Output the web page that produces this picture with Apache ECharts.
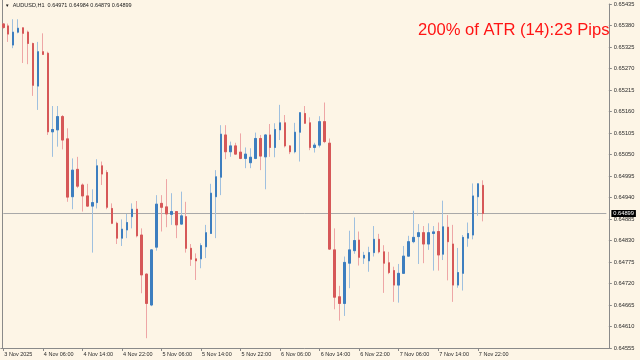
<!DOCTYPE html>
<html><head><meta charset="utf-8">
<script src="https://cdn.jsdelivr.net/npm/echarts@6/dist/echarts.min.js"></script>
<style>html,body{margin:0;padding:0;background:#fdf5e6}#c{width:640px;height:360px}</style>
</head><body><div id="c"></div><script>
const symbolTitle = 'AUDUSD,H1  0.64971 0.64984 0.64879 0.64899';
const atrText = '200% of ATR (14):23 Pips';

const opens = [0.65384,0.65379,0.65330,0.65363,0.65374,0.65363,0.65334,0.65225,0.65313,0.65309,
0.65108,0.65113,0.65147,0.65090,0.64942,0.65012,0.64972,0.64944,0.64918,0.64927,
0.65021,0.65004,0.64912,0.64874,0.64836,0.64857,0.64891,0.64910,0.64844,0.64744,
0.64665,0.64813,0.64925,0.64916,0.64897,0.64904,0.64872,0.64891,0.64810,0.64783,
0.64783,0.64814,0.64848,0.64942,0.64992,0.65100,0.65057,0.65072,0.65056,0.65040,
0.65029,0.65040,0.65091,0.65044,0.65100,0.65068,0.65113,0.65131,0.65072,0.65057,
0.65107,0.65155,0.65131,0.65068,0.65074,0.65134,0.65079,0.64806,0.64686,0.64669,
0.64772,0.64804,0.64831,0.64785,0.64778,0.64799,0.64833,0.64801,0.64773,0.64753,
0.64716,0.64746,0.64790,0.64827,0.64840,0.64850,0.64821,0.64848,0.64853,0.64795,
0.64864,0.64821,0.64716,0.64746,0.64836,0.64844,0.64942,0.64971];

const highs = [0.65385,0.65385,0.65396,0.65396,0.65375,0.65367,0.65336,0.65338,0.65360,0.65313,
0.65174,0.65174,0.65151,0.65117,0.65040,0.65044,0.64976,0.64975,0.64961,0.65038,
0.65032,0.65010,0.64925,0.64878,0.64884,0.64898,0.64925,0.64931,0.64861,0.64746,
0.64808,0.64946,0.64946,0.64987,0.64951,0.64905,0.64955,0.64929,0.64821,0.64797,
0.64823,0.64870,0.64975,0.65010,0.65125,0.65125,0.65083,0.65080,0.65104,0.65068,
0.65066,0.65106,0.65100,0.65102,0.65128,0.65130,0.65177,0.65151,0.65074,0.65131,
0.65158,0.65174,0.65145,0.65080,0.65148,0.65183,0.65091,0.64861,0.64714,0.64789,
0.64855,0.64889,0.64853,0.64801,0.64814,0.64867,0.64847,0.64818,0.64801,0.64763,
0.64770,0.64816,0.64842,0.64906,0.64872,0.64867,0.64874,0.64867,0.64876,0.64932,
0.64895,0.64870,0.64811,0.64844,0.64876,0.64976,0.64976,0.64984];

const lows = [0.65372,0.65338,0.65322,0.65360,0.65284,0.65281,0.65200,0.65164,0.65305,0.65100,
0.65044,0.65070,0.65063,0.64929,0.64910,0.64964,0.64904,0.64916,0.64799,0.64912,
0.64972,0.64910,0.64872,0.64821,0.64816,0.64836,0.64861,0.64838,0.64695,0.64580,
0.64662,0.64804,0.64853,0.64864,0.64870,0.64836,0.64870,0.64799,0.64765,0.64729,
0.64759,0.64785,0.64847,0.64836,0.64946,0.65038,0.65044,0.65050,0.65038,0.65015,
0.65015,0.65038,0.65010,0.64961,0.65044,0.65043,0.65087,0.65068,0.65051,0.65053,
0.65032,0.65128,0.65061,0.65055,0.65068,0.65079,0.64806,0.64654,0.64625,0.64637,
0.64708,0.64796,0.64766,0.64770,0.64750,0.64789,0.64797,0.64696,0.64744,0.64673,
0.64671,0.64745,0.64789,0.64823,0.64770,0.64772,0.64806,0.64753,0.64753,0.64780,
0.64728,0.64673,0.64709,0.64702,0.64814,0.64833,0.64893,0.64879];

const closes = [0.65375,0.65358,0.65363,0.65373,0.65360,0.65334,0.65227,0.65313,0.65306,0.65108,
0.65114,0.65147,0.65087,0.64941,0.65010,0.64969,0.64944,0.64918,0.64927,0.65021,
0.65000,0.64915,0.64874,0.64836,0.64859,0.64876,0.64910,0.64842,0.64742,0.64669,
0.64806,0.64923,0.64915,0.64898,0.64904,0.64870,0.64893,0.64810,0.64782,0.64778,
0.64817,0.64850,0.64951,0.64993,0.65102,0.65057,0.65072,0.65051,0.65040,0.65051,
0.65043,0.65091,0.65046,0.65100,0.65068,0.65114,0.65131,0.65072,0.65057,0.65107,
0.65157,0.65130,0.65068,0.65074,0.65134,0.65083,0.64808,0.64685,0.64669,0.64774,
0.64806,0.64830,0.64787,0.64792,0.64799,0.64833,0.64801,0.64772,0.64748,0.64716,
0.64746,0.64790,0.64827,0.64838,0.64850,0.64821,0.64850,0.64852,0.64793,0.64865,
0.64827,0.64716,0.64748,0.64838,0.64848,0.64944,0.64975,0.64899];

const tickLabels = ['3 Nov 2025','4 Nov 06:00','4 Nov 14:00','4 Nov 22:00','5 Nov 06:00','5 Nov 14:00',
'5 Nov 22:00','6 Nov 06:00','6 Nov 14:00','6 Nov 22:00','7 Nov 06:00','7 Nov 14:00','7 Nov 22:00'];
const labelEvery = 8;
const yMin = 0.64555, yMax = 0.65435, yStep = 0.00055;

// hourly categories starting 3 Nov 22:00 (plus empty space to the right, as in the terminal)
const totalSlots = 123;
const categories = [];
for (let i = 0; i < totalSlots; i++) {
  const t = 22 + i, d = 3 + Math.floor(t / 24), h = t % 24;
  categories.push(d + ' Nov ' + String(h).padStart(2, '0') + ':00');
}

const wickData = opens.map((o, i) => [o, closes[i], lows[i], highs[i]]);
const bodyData = opens.map((o, i) => [o, closes[i], Math.min(o, closes[i]), Math.max(o, closes[i])]);
const lastClose = closes[closes.length - 1];
// horizontal bid line spanning the whole chart
const priceLine = [[0, lastClose], [totalSlots - 1, lastClose]];

const FONT = '"Liberation Sans", Arial, sans-serif';
const chart = echarts.init(document.getElementById('c'), null, {renderer: 'canvas'});
chart.setOption({
  animation: false,
  backgroundColor: '#fdf5e6',
  grid: {left: 0.83, right: 31.17, top: 4, bottom: 12, containLabel: false},
  xAxis: {
    type: 'category', data: categories, boundaryGap: true,
    axisLine: {show: true, lineStyle: {color: '#8a8a8a', width: 1}},
    axisTick: {show: true, alignWithLabel: true, length: 3, lineStyle: {color: '#8a8a8a'},
      interval: (idx) => idx % labelEvery === 0 && idx / labelEvery < tickLabels.length},
    axisLabel: {
      interval: (idx) => idx % labelEvery === 0 && idx / labelEvery < tickLabels.length,
      formatter: (v, idx) => tickLabels[idx / labelEvery] || '',
      align: 'left', margin: 3, fontSize: 5.5, color: '#2a2a2a', fontFamily: FONT,
      padding: [0, 0, 0, 1]
    },
    splitLine: {show: false}
  },
  yAxis: {
    type: 'value', position: 'right',
    min: yMin, max: yMax, interval: yStep,
    axisLine: {show: true, lineStyle: {color: '#8a8a8a', width: 1}},
    axisTick: {show: true, inside: false, length: 3, lineStyle: {color: '#8a8a8a'}},
    axisLabel: {formatter: v => v.toFixed(5), fontSize: 5.7, color: '#2a2a2a', margin: 5, fontFamily: FONT},
    splitLine: {show: false}
  },
  series: [
    {
      type: 'line', data: priceLine, symbol: 'none', showSymbol: false, silent: true, clip: false, z: 1,
      lineStyle: {color: '#a9a9a9', width: 1},
      endLabel: {show: true, distance: 5, formatter: lastClose.toFixed(5),
        backgroundColor: '#000', color: '#fff', fontSize: 5.7, fontFamily: FONT, padding: [1, 2, 0, 2]}
    },
    {
      type: 'candlestick', data: wickData, barWidth: 2, silent: true, z: 2,
      itemStyle: {color: '#9fc0df', color0: '#eea6a6', borderColor: '#9fc0df', borderColor0: '#eea6a6', borderWidth: 1}
    },
    {
      type: 'candlestick', data: bodyData, barWidth: 2, silent: true, z: 3,
      itemStyle: {color: '#3d7ebf', color0: '#d65858', borderColor: '#3d7ebf', borderColor0: '#d65858', borderWidth: 1}
    }
  ],
  graphic: [
    {type: 'line', shape: {x1: 2.5, y1: 0, x2: 2.5, y2: 348}, style: {stroke: '#8a8a8a', lineWidth: 1}, silent: true},
    {type: 'text', left: 5, top: 3, style: {text: '▼', fontSize: 4.5, fill: '#111', fontFamily: FONT}, silent: true},
    {type: 'text', x: 12.7, y: 5.7, style: {text: symbolTitle, fontSize: 5.5, fill: '#1a1a1a', fontFamily: FONT,
      textAlign: 'left', textVerticalAlign: 'middle'}, silent: true},
    {type: 'text', x: 609.5, y: 30, style: {text: atrText, fontSize: 16.6, fill: '#ff1414', fontFamily: FONT,
      textAlign: 'right', textVerticalAlign: 'middle'}, silent: true}
  ]
});
</script></body></html>
